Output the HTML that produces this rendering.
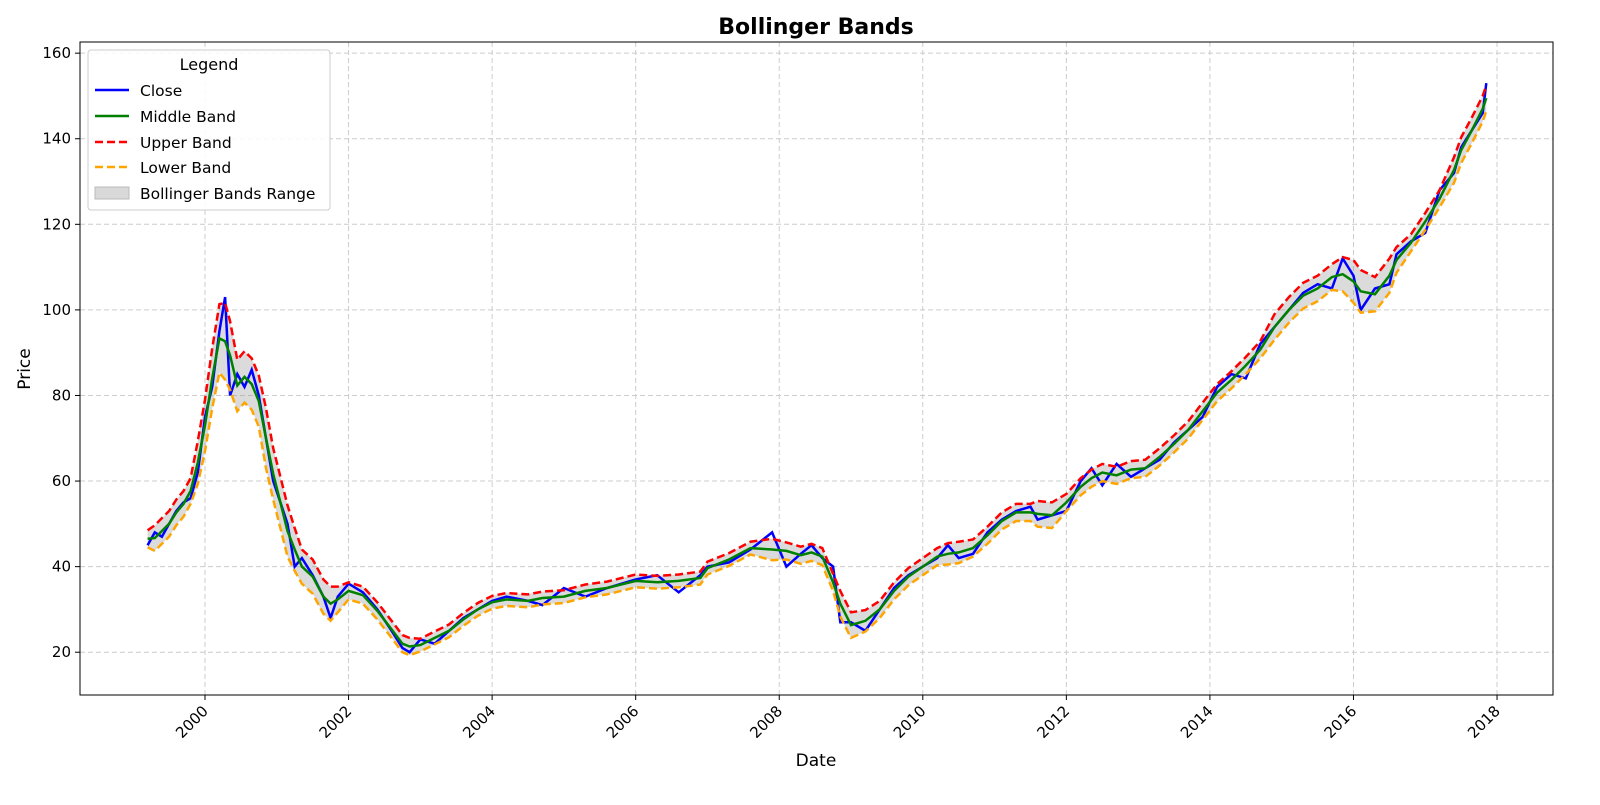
<!DOCTYPE html>
<html><head><meta charset="utf-8"><style>
body{margin:0;background:#fff;font-family:"Liberation Sans",sans-serif}
svg text{font-family:"DejaVu Sans","Liberation Sans",sans-serif}
</style></head><body>
<svg id="chart" width="1600" height="800" xmlns="http://www.w3.org/2000/svg">
<text x="816" y="34" text-anchor="middle" font-size="22" font-weight="bold">Bollinger Bands</text>
<text x="816" y="766" text-anchor="middle" font-size="17">Date</text>
<text x="30" y="369" text-anchor="middle" font-size="17" transform="rotate(-90 30 369)">Price</text>
<g id="grid"></g><g id="fill"></g><g id="lines"></g><g id="ticks"></g>
<rect x="80" y="42" width="1473" height="653" fill="none" stroke="#000" stroke-width="1"/>
<g>
<rect x="88" y="50" width="242" height="160" rx="3" fill="#fff" fill-opacity="0.85" stroke="#ccc"/>
<text x="209" y="70" text-anchor="middle" font-size="16">Legend</text>
<line x1="95" y1="90" x2="129" y2="90" stroke="blue" stroke-width="2.5"/>
<text x="140" y="96" font-size="15.5">Close</text>
<line x1="95" y1="116" x2="129" y2="116" stroke="green" stroke-width="2.5"/>
<text x="140" y="122" font-size="15.5">Middle Band</text>
<line x1="95" y1="142" x2="129" y2="142" stroke="red" stroke-width="2.5" stroke-dasharray="8,4"/>
<text x="140" y="148" font-size="15.5">Upper Band</text>
<line x1="95" y1="167" x2="129" y2="167" stroke="orange" stroke-width="2.5" stroke-dasharray="8,4"/>
<text x="140" y="173" font-size="15.5">Lower Band</text>
<rect x="95" y="187" width="34" height="12" fill="#d9d9d9" stroke="#bbb"/>
<text x="140" y="199" font-size="15.5">Bollinger Bands Range</text>
</g>
</svg>
<script>
const dates=[1999.2,1999.3,1999.4,1999.5,1999.6,1999.7,1999.8,1999.9,2000.0,2000.1,2000.2,2000.28,2000.35,2000.45,2000.55,2000.65,2000.75,2000.85,2000.95,2001.05,2001.15,2001.25,2001.35,2001.5,2001.65,2001.75,2001.85,2002.0,2002.2,2002.4,2002.6,2002.75,2002.85,2003.0,2003.2,2003.4,2003.6,2003.8,2004.0,2004.2,2004.5,2004.7,2005.0,2005.3,2005.6,2006.0,2006.3,2006.6,2006.9,2007.0,2007.3,2007.6,2007.9,2008.1,2008.3,2008.45,2008.6,2008.75,2008.85,2009.0,2009.2,2009.4,2009.6,2009.8,2010.0,2010.2,2010.35,2010.5,2010.7,2010.9,2011.1,2011.3,2011.5,2011.6,2011.8,2012.0,2012.2,2012.35,2012.5,2012.7,2012.9,2013.1,2013.3,2013.5,2013.7,2013.9,2014.1,2014.3,2014.5,2014.7,2014.9,2015.1,2015.3,2015.5,2015.7,2015.85,2016.0,2016.1,2016.3,2016.5,2016.6,2016.8,2017.0,2017.2,2017.4,2017.5,2017.65,2017.8,2017.85];
const closeVals=[45,48,47,50,53,55,56,62,75,82,95,103,80,85,82,86,80,70,60,55,50,40,42,38,33,28,33,36,34,30,25,21,20,23,22,25,28,30,32,33,32,31,35,33,35,37,38,34,38,40,41,44,48,40,43,45,42,40,27,27,25,30,35,38,40,42,45,42,43,48,51,53,54,51,52,53,60,63,59,64,61,63,65,69,72,75,82,85,84,92,96,100,104,106,105,112,108,100,105,106,113,116,118,128,132,138,142,146,153];
const bandWidth=[2,3,3,3,3,3,3,5,6,7,8,9,8,6,6,6,6,7,6,6,6,5,4,4,4,4,3,2,2,2,2,2,2,1.5,1.5,1.5,1.5,1.5,1.5,1.5,1.5,1.5,1.5,1.5,1.5,1.5,1.5,1.5,1.5,1.5,1.5,1.5,2.5,2,2,2,2,2,3,3,2.5,2,2,2,2,2,2.5,2.5,2,2,2,2,2,3,3,2,2,2,2,2,2,2,2,2,2,2,2,2,2,2,3,3,3,3,3,4,5,5,4,4,3,2,2,2,3,3,3,3,3];
const xTicks=[2000,2002,2004,2006,2008,2010,2012,2014,2016,2018];
const yTicks=[20,40,60,80,100,120,140,160];
const X=d=>205+(d-2000)*71.78;
const Y=v=>695-(v-10)*4.279;
const NS="http://www.w3.org/2000/svg";
function mk(tag,attrs,parent){const e=document.createElementNS(NS,tag);for(const k in attrs)e.setAttribute(k,attrs[k]);document.getElementById(parent).appendChild(e);return e;}
xTicks.forEach(t=>{
 const g=mk('line',{x1:X(t),x2:X(t),y1:42,y2:695,stroke:'#ccc','stroke-dasharray':'5,3'},'grid');
 
 
 mk('line',{x1:X(t),x2:X(t),y1:695,y2:700,stroke:'#000'},'ticks');
 const tx=mk('text',{x:X(t)+4,y:712,'font-size':'15','text-anchor':'end',transform:`rotate(-45 ${X(t)+4} 712)`},'ticks');
 tx.textContent=t;
 
 
});
yTicks.forEach(t=>{
 const g=mk('line',{x1:80,x2:1553,y1:Y(t),y2:Y(t),stroke:'#ccc','stroke-dasharray':'5,3'},'grid');
 
 
 mk('line',{x1:75,x2:80,y1:Y(t),y2:Y(t),stroke:'#000'},'ticks');
 const tx=mk('text',{x:71,y:Y(t)+5,'font-size':'15','text-anchor':'end'},'ticks');
 tx.textContent=t;
 
 
});
const middle=closeVals.map((v,i)=>{const a=closeVals.slice(Math.max(0,i-1),i+2);return a.reduce((s,x)=>s+x,0)/a.length;});
const upper=middle.map((m,i)=>m+bandWidth[i]);
const lower=middle.map((m,i)=>m-bandWidth[i]);
const pts=arr=>arr.map((v,i)=>X(dates[i]).toFixed(1)+','+Y(v).toFixed(1)).join(' ');
const area=mk('polygon',{points:pts(upper)+' '+lower.map((v,i)=>[X(dates[i]).toFixed(1),Y(v).toFixed(1)]).reverse().map(p=>p.join(',')).join(' '),fill:'#999','fill-opacity':'0.35'},'fill');


const c=mk('polyline',{points:pts(closeVals),fill:'none',stroke:'blue','stroke-width':2.5},'lines');


const m=mk('polyline',{points:pts(middle),fill:'none',stroke:'green','stroke-width':2.5},'lines');


const u=mk('polyline',{points:pts(upper),fill:'none',stroke:'red','stroke-width':2.5,'stroke-dasharray':'8,4'},'lines');


const l=mk('polyline',{points:pts(lower),fill:'none',stroke:'orange','stroke-width':2.5,'stroke-dasharray':'8,4'},'lines');


</script>
</body></html>
